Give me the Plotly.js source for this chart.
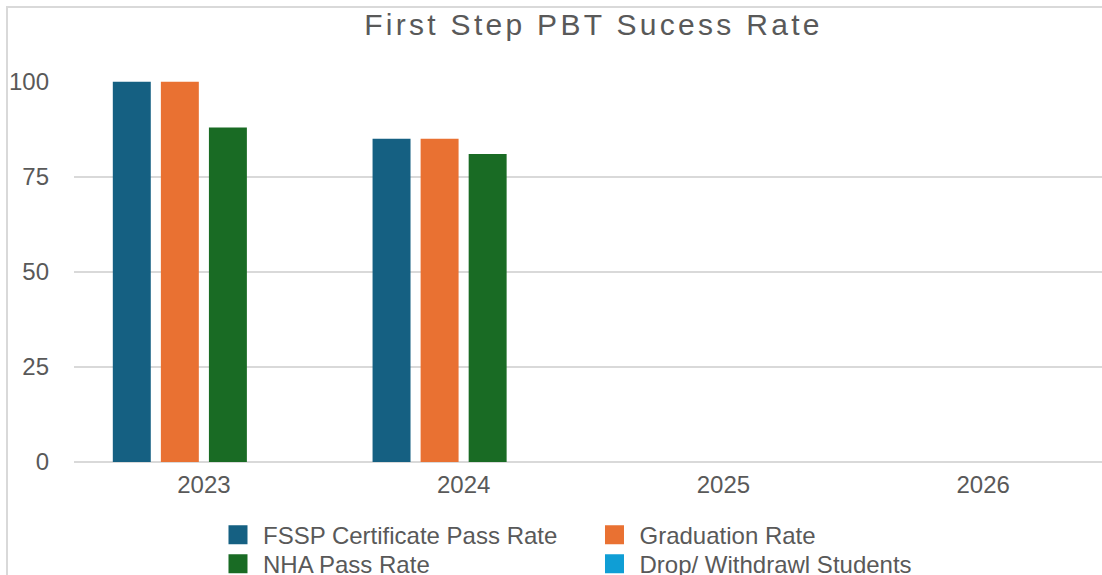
<!DOCTYPE html>
<html>
<head>
<meta charset="utf-8">
<script src="https://cdn.plot.ly/plotly-3.0.1.min.js"></script>
<style>
  html, body { margin: 0; padding: 0; background: #ffffff; overflow: hidden; }
  #frame { position: absolute; left: 6px; top: 6px; border: 2px solid #d9d9d9; background: #fff; }
  #chart { width: 1125px; height: 600px; }
</style>
</head>
<body>
<div id="frame"><div id="chart"></div></div>
<script>
const categories = ['2023', '2024', '2025', '2026'];
const fsspPassRate = [100, 85, null, null];
const graduationRate = [100, 85, null, null];
const nhaPassRate = [88, 81, null, null];
const dropWithdrawl = [0, 0, null, null];
const yTicks = [0, 25, 50, 75, 100];

const seriesNames = ['FSSP Certificate Pass Rate', 'Graduation Rate', 'NHA Pass Rate', 'Drop/ Withdrawl Students'];
const seriesValues = [fsspPassRate, graduationRate, nhaPassRate, dropWithdrawl];
const seriesColors = ['#156082', '#E97132', '#196B24', '#0F9ED5'];

const textColor = '#595959';
const fontFamily = '"Liberation Sans", Arial, Helvetica, sans-serif';

const traces = seriesNames.map((name, i) => ({
  type: 'bar',
  name: name,
  x: categories,
  y: seriesValues[i],
  marker: { color: seriesColors[i], line: { width: 0 } },
  hoverinfo: 'x+y+name'
}));

const layout = {
  width: 1125,
  height: 600,
  margin: { l: 66, r: 20, t: 73, b: 146, autoexpand: false },
  paper_bgcolor: '#ffffff',
  plot_bgcolor: '#ffffff',
  font: { family: fontFamily, size: 24, color: textColor },
  title: {
    text: 'First Step PBT Sucess Rate',
    font: { family: fontFamily, size: 30, color: textColor },
    x: 0.5, xref: 'paper', xanchor: 'center',
    y: 1 - 16 / 600, yref: 'container', yanchor: 'middle'
  },
  barmode: 'group',
  bargap: 0.26,
  bargroupgap: 0.21,
  xaxis: {
    type: 'category',
    categoryorder: 'array',
    categoryarray: categories,
    range: [-0.5, 3.5],
    showgrid: false,
    zeroline: false,
    showline: false,
    ticks: '',
    ticklabelstandoff: 6,
    tickfont: { size: 24, color: textColor }
  },
  yaxis: {
    range: [0, 100.2],
    tickmode: 'array',
    tickvals: yTicks,
    ticktext: yTicks.map(String),
    showgrid: true,
    gridcolor: '#d9d9d9',
    gridwidth: 2,
    zeroline: true,
    zerolinecolor: '#d9d9d9',
    zerolinewidth: 2,
    showline: false,
    ticks: '',
    ticklabelstandoff: 24,
    tickfont: { size: 24, color: textColor }
  },
  showlegend: true,
  legend: {
    orientation: 'h',
    x: 0.1434, xanchor: 'left',
    y: -0.133, yanchor: 'top',
    entrywidth: 331.5,
    entrywidthmode: 'pixels',
    traceorder: 'normal',
    font: { size: 24, color: textColor },
    bgcolor: 'rgba(0,0,0,0)',
    borderwidth: 0
  }
};

function tweak() {
  document.querySelectorAll('#chart .legendpoints path').forEach(p => {
    p.removeAttribute('transform');
    p.setAttribute('d', 'M24.5,9.5H5.5V-9.5H24.5Z');
  });
  const items = Array.from(document.querySelectorAll('#chart .legend .traces'));
  const pos = items.map(g => {
    const m = /translate\(\s*([-\d.e]+)[ ,]+([-\d.e]+)\s*\)/.exec(g.getAttribute('transform') || '');
    return m ? [parseFloat(m[1]), parseFloat(m[2])] : null;
  });
  const ys = pos.filter(Boolean).map(p => p[1]);
  if (ys.length) {
    const minY = Math.min(...ys);
    const rowYs = Array.from(new Set(ys)).sort((a, b) => a - b);
    items.forEach((g, i) => {
      if (!pos[i]) return;
      const row = rowYs.indexOf(pos[i][1]);
      g.setAttribute('transform', 'translate(' + pos[i][0] + ',' + (minY + row * 29) + ')');
    });
  }
  document.querySelectorAll('#chart .gtitle').forEach(t => {
    t.style.letterSpacing = '3.3px';
  });
}

Plotly.newPlot('chart', traces, layout, { displayModeBar: false, staticPlot: true }).then(tweak);
</script>
</body>
</html>
